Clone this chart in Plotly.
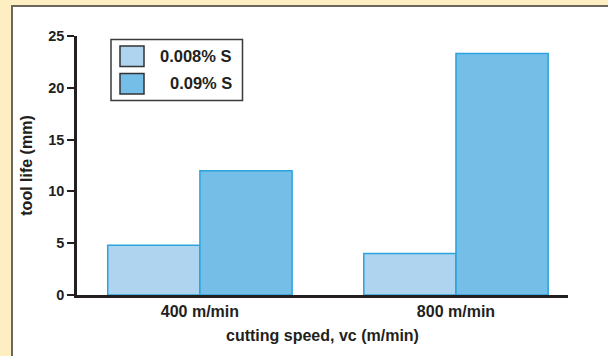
import plotly.graph_objects as go

# ---- data ----
categories = ["400 m/min", "800 m/min"]
series_names = ["0.008% S", "0.09% S"]
low_sulfur = [4.8, 4.0]
high_sulfur = [12.0, 23.3]
y_ticks = [0, 5, 10, 15, 20, 25]

W, H = 608, 356
L, R, T, B = 77, 40, 36, 61
PW, PH = W - L - R, H - T - B

def px(x):
    return (x - L) / PW

def py(y):
    return (H - B - y) / PH

light = "#AED4EF"
dark = "#74BEE8"
edge = "#2BA3DC"
ink = "#231F20"
font = "Liberation Sans"

fig = go.Figure()
fig.add_trace(go.Bar(x=categories, y=low_sulfur, name=series_names[0],
                     marker=dict(color=light, line=dict(color=edge, width=1.5))))
fig.add_trace(go.Bar(x=categories, y=high_sulfur, name=series_names[1],
                     marker=dict(color=dark, line=dict(color=edge, width=1.5))))

shapes = [
    # panel
    dict(type="rect", xref="paper", yref="paper", x0=px(12), x1=px(700), y0=py(500), y1=py(6),
         fillcolor="white", line=dict(color="#6B6660", width=2), layer="below"),
    # legend box
    dict(type="rect", xref="paper", yref="paper", x0=px(111), x1=px(242.5), y0=py(100.5), y1=py(39.5),
         fillcolor="white", line=dict(color="#3A3A3A", width=1.5)),
    dict(type="rect", xref="paper", yref="paper", x0=px(120), x1=px(144), y0=py(66.5), y1=py(46),
         fillcolor=light, line=dict(color="#333333", width=1.5)),
    dict(type="rect", xref="paper", yref="paper", x0=px(120), x1=px(144), y0=py(94), y1=py(73.5),
         fillcolor=dark, line=dict(color="#333333", width=1.5)),
]
annotations = [
    dict(xref="paper", yref="paper", x=px(234), y=py(56), text="<b>%s</b>" % series_names[0],
         xanchor="right", yanchor="middle", showarrow=False, font=dict(family=font, size=16.5, color=ink)),
    dict(xref="paper", yref="paper", x=px(234), y=py(83), text="<b>%s</b>" % series_names[1],
         xanchor="right", yanchor="middle", showarrow=False, font=dict(family=font, size=16.5, color=ink)),
]

fig.update_layout(
    width=W, height=H,
    margin=dict(l=L, r=R, t=T, b=B, pad=0),
    paper_bgcolor="#FEEFC3",
    plot_bgcolor="white",
    barmode="group", bargap=0.28, bargroupgap=0,
    showlegend=False,
    shapes=shapes, annotations=annotations,
    font=dict(family=font, color=ink),
    xaxis=dict(
        range=[-0.48, 1.4375], showline=True, linecolor=ink, linewidth=2.5,
        ticks="", showgrid=False, zeroline=False,
        tickfont=dict(family=font, size=16, color=ink, weight="bold"),
        title=dict(text="<b>cutting speed, vc (m/min)</b>", font=dict(family=font, size=16, color=ink), standoff=11),
    ),
    yaxis=dict(
        range=[0, 25], tickvals=y_ticks, showline=True, linecolor=ink, linewidth=2.5,
        ticks="outside", ticklen=7, tickwidth=2, tickcolor=ink, showgrid=False, zeroline=False,
        tickfont=dict(family=font, size=14.5, color=ink, weight="bold"),
        title=dict(text="<b>tool life (mm)</b>", font=dict(family=font, size=16, color=ink), standoff=12),
    ),
)

fig.write_html("out.html", config={"displayModeBar": False},
               post_script="document.body.style.margin='0';document.body.style.padding='0';")
